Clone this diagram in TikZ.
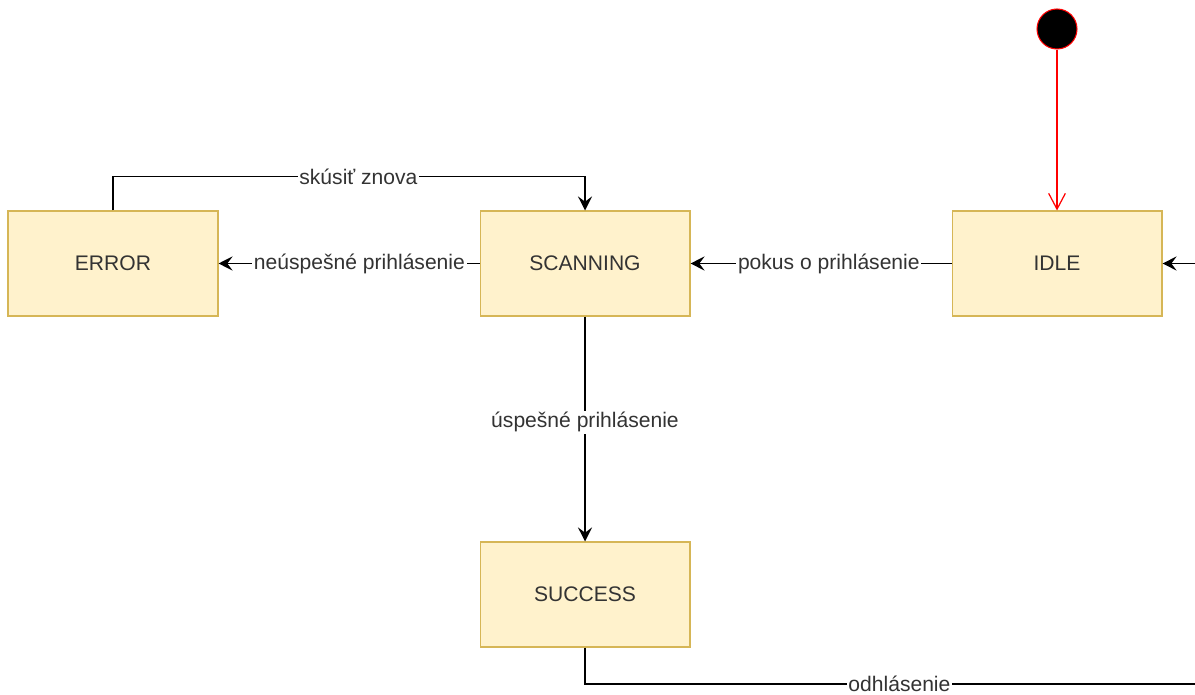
\documentclass[tikz,border=0pt]{standalone}
\usepackage{fontspec}
\setmainfont{Liberation Sans}
\usetikzlibrary{arrows.meta}
\definecolor{statefill}{HTML}{FFF2CC}
\definecolor{stateline}{HTML}{D6B656}
\definecolor{txt}{HTML}{333333}
\begin{document}
\begin{tikzpicture}[x=0.02cm,y=-0.02cm,
  state/.style={draw=stateline,fill=statefill,line width=0.6pt,minimum width=4.2cm,minimum height=2.1cm,text=txt,font=\fontsize{12}{14}\selectfont},
  trans/.style={draw=black,line width=0.8pt,-{Stealth[length=8pt,width=8pt,inset=3pt]}},
  lbl/.style={fill=white,inner sep=1pt,text=txt,font=\fontsize{12}{14}\selectfont}]
  % Rahmen
  \useasboundingbox (0,0) rectangle (1195,695);
  \clip (0,0) rectangle (1195,695);
  % Zustaende
  \node[state] (error) at (113,263.5) {ERROR};
  \node[state] (scan) at (585,263.5) {SCANNING};
  \node[state] (idle) at (1057,263.5) {IDLE};
  \node[state] (success) at (585,594.5) {SUCCESS};
  % Startpunkt
  \node[circle,draw=red,fill=black,line width=0.6pt,minimum size=0.8cm,inner sep=0pt] (start) at (1057,29) {};
  \coordinate (back) at (1240,684);
  % Uebergaenge
  \draw[red,line width=0.7pt,-{Straight Barb[length=9pt,width=9.5pt]}] (start) -- (idle);
  \draw[trans] (idle) -- node[lbl,pos=0.47] {pokus o prihlásenie} (scan);
  \draw[trans] (scan) -- node[lbl,pos=0.46] {neúspešné prihlásenie} (error);
  \draw[trans] (error.north) -- ++(0,-34) -| node[lbl,pos=0.26] {skúsiť znova} (scan.north);
  \draw[trans] (scan) -- node[lbl,pos=0.47] {úspešné prihlásenie} (success);
  \draw[trans] (success.south) |- node[lbl,pos=0.74] {odhlásenie} (back) |- (idle.east);
\end{tikzpicture}
\end{document}
